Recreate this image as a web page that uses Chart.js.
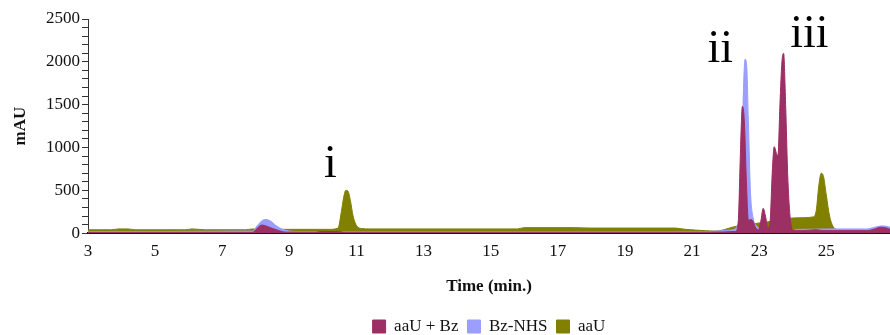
<!DOCTYPE html>
<html>
<head>
<meta charset="utf-8">
<script src="https://cdn.jsdelivr.net/npm/chart.js@4.4.1/dist/chart.umd.min.js"></script>
<style>
  html, body { margin: 0; padding: 0; background: #fff; }
  #wrap { width: 890px; height: 335px; }
</style>
</head>
<body>
<div id="wrap"><canvas id="myChart"></canvas></div>
<script>
// legend names + colours
const seriesNames = ['aaU + Bz', 'Bz-NHS', 'aaU'];
const seriesColors = ['#9c2f64', '#9b9dff', '#818000'];

// aaU + Bz  (time in min, mAU)
const timeAB = [3.0, 7.9, 8.05, 8.18, 8.3, 8.5, 8.7, 8.9, 9.8, 9.9, 10.5, 10.6,
  21.5, 22.3, 22.38, 22.44, 22.5, 22.56, 22.62, 22.68, 22.75, 22.82, 22.9, 22.98,
  23.05, 23.12, 23.19, 23.26, 23.33, 23.39, 23.45, 23.51, 23.56, 23.62, 23.68, 23.73, 23.79, 23.85, 23.92, 24.0,
  24.3, 24.7, 24.9, 26.2, 26.45, 26.6, 26.8, 26.9];
const valAB = [10, 10, 60, 95, 85, 55, 30, 12, 12, 20, 20, 12,
  12, 20, 150, 900, 1480, 1300, 600, 150, 160, 140, 60, 40,
  140, 290, 200, 60, 150, 700, 1010, 940, 900, 1500, 2000, 2100, 1500, 700, 200, 40,
  30, 40, 30, 30, 50, 70, 60, 45];

// Bz-NHS
const timeNHS = [3.0, 7.9, 8.05, 8.2, 8.3, 8.45, 8.6, 8.8, 9.0, 9.2,
  21.5, 22.1, 22.35, 22.45, 22.52, 22.58, 22.63, 22.68, 22.74, 22.82, 22.92, 23.05, 23.3,
  25.2, 26.2, 26.45, 26.65, 26.8, 26.9];
const valNHS = [20, 25, 90, 150, 160, 140, 90, 45, 25, 20,
  20, 35, 80, 400, 1500, 2030, 1950, 1300, 500, 180, 90, 50, 40,
  50, 50, 70, 85, 80, 70];

// aaU
const timeU = [3.0, 3.7, 3.9, 4.2, 4.4, 5.9, 6.1, 6.3, 6.5, 7.7, 7.9, 8.1,
  10.2, 10.45, 10.55, 10.62, 10.68, 10.75, 10.82, 10.9, 11.0, 11.15, 11.4,
  15.8, 16.0, 17.5, 18.0, 20.5, 20.8,
  21.4, 21.7, 21.95, 22.2, 22.45, 22.7, 23.0, 23.4, 23.8, 24.2, 24.6,
  24.7, 24.78, 24.85, 24.92, 25.0, 25.1, 25.2, 25.3, 25.5, 26.9];
const valU = [40, 40, 50, 50, 40, 40, 50, 45, 40, 40, 50, 45,
  45, 60, 250, 420, 500, 490, 380, 200, 90, 55, 50,
  50, 65, 65, 60, 60, 45,
  30, 25, 40, 70, 90, 100, 120, 140, 170, 180, 190,
  260, 560, 700, 660, 450, 200, 80, 45, 30, 25];

// x tick labels
const xTicks = [3, 5, 7, 9, 11, 13, 15, 17, 19, 21, 23, 25];

// peak labels
const peakLabels = ['i', 'ii', 'iii'];
const peakX = [10.22, 21.84, 24.5];
const peakY = [660, 2000, 2175];

const serif = "'Liberation Serif', 'Times New Roman', serif";

function pts(t, v) {
  return t.map((x, i) => ({ x: x, y: v[i] }));
}

const peakText = {
  id: 'peakText',
  afterDatasetsDraw(chart) {
    const ctx = chart.ctx;
    const xs = chart.scales.x, ys = chart.scales.y;
    ctx.save();
    ctx.fillStyle = '#000';
    ctx.font = '46px ' + serif;
    ctx.textAlign = 'center';
    ctx.textBaseline = 'alphabetic';
    peakLabels.forEach((s, i) => {
      ctx.fillText(s, xs.getPixelForValue(peakX[i]), ys.getPixelForValue(peakY[i]));
    });
    ctx.restore();
  }
};

function makeSet(i, t, v) {
  return {
    label: seriesNames[i],
    data: pts(t, v),
    borderColor: seriesColors[i],
    backgroundColor: seriesColors[i],
    borderWidth: 1,
    pointRadius: 0,
    fill: 'origin',
    cubicInterpolationMode: 'monotone'
  };
}

let ctx = document.getElementById('myChart').getContext('2d');
let chart = new Chart(ctx, {
  type: 'line',
  data: {
    datasets: [
      makeSet(0, timeAB, valAB),
      makeSet(1, timeNHS, valNHS),
      makeSet(2, timeU, valU)
    ]
  },
  options: {
    responsive: true,
    maintainAspectRatio: false,
    animation: false,
    layout: { padding: { top: 19, right: 0, left: 0, bottom: -10 } },
    plugins: {
      tooltip: { enabled: false },
      legend: {
        position: 'bottom',
        fullSize: false,
        labels: {
          boxWidth: 13, boxHeight: 13, padding: 9,
          color: '#111',
          font: { family: serif, size: 17 }
        }
      }
    },
    scales: {
      x: {
        type: 'linear',
        min: 3, max: 26.9,
        afterBuildTicks: (axis) => { axis.ticks = xTicks.map(v => ({ value: v })); },
        grid: { drawOnChartArea: false, drawTicks: false },
        border: { color: '#1a0a10', width: 2 },
        ticks: { color: '#111', padding: 8, maxRotation: 0, font: { family: serif, size: 17 } },
        title: {
          display: true, text: 'Time (min.)', color: '#111',
          padding: { top: 7, bottom: 12 },
          font: { family: serif, size: 17, weight: 'bold' }
        }
      },
      y: {
        min: 0, max: 2500,
        afterFit: (axis) => { axis.width = 88; },
        grid: { drawOnChartArea: false, tickLength: 6, color: '#333' },
        border: { color: '#333', width: 1 },
        ticks: {
          stepSize: 100, autoSkip: false, padding: 2, color: '#111',
          font: { family: serif, size: 17 },
          callback: (v) => (v % 500 === 0 ? v : '')
        },
        title: {
          display: true, text: 'mAU', color: '#111',
          padding: { top: 10, bottom: 4 },
          font: { family: serif, size: 17, weight: 'bold' }
        }
      }
    }
  },
  plugins: [peakText]
});
</script>
</body>
</html>
